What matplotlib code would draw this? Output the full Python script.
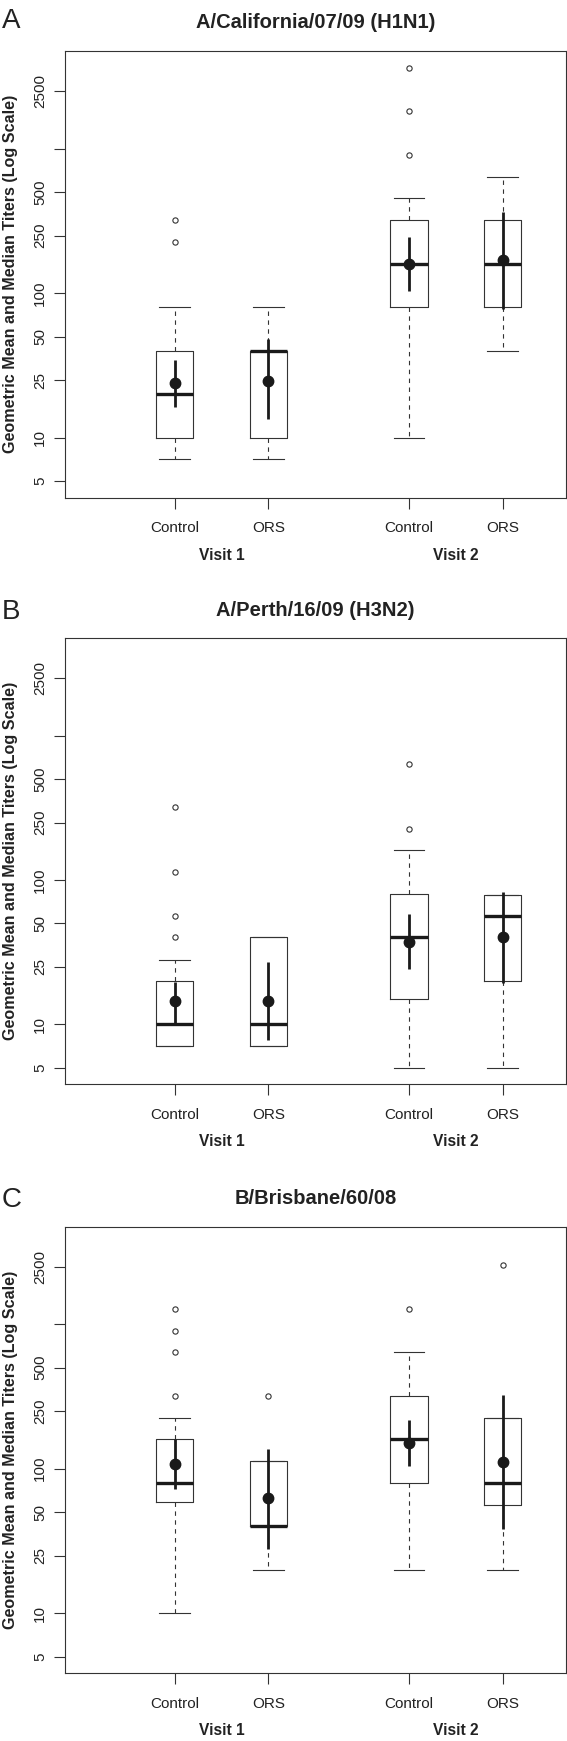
import numpy as np
import matplotlib
matplotlib.use("Agg")
import matplotlib.pyplot as plt

plt.rcParams['font.family'] = ['Liberation Sans', 'DejaVu Sans']

groups = ["Control", "ORS", "Control", "ORS"]
visits = ["Visit 1", "Visit 2"]
positions = [1, 2, 3.5, 4.5]
visit_pos = [1.5, 4.0]
yticks = [5, 10, 25, 50, 100, 250, 500, 1000, 2500]
ytick_labels = ["5", "10", "25", "50", "100", "250", "500", "", "2500"]

titles = ["A/California/07/09 (H1N1)", "A/Perth/16/09 (H3N2)", "B/Brisbane/60/08"]
letters = ["A", "B", "C"]

# panel A
a_q1 = [10, 10, 80, 80]
a_med = [20, 40, 160, 160]
a_q3 = [40, 40, 320, 320]
a_lo = [7.1, 7.1, 10, 40]
a_hi = [80, 80, 452, 640]
a_fliers = [[226, 320], [], [905, 1810, 3620], []]
a_mean = [23.8, 24.8, 160, 170]
a_ci_lo = [16.4, 13.4, 104, 77]
a_ci_hi = [34.4, 48, 244, 364]

# panel B
b_q1 = [7.07, 7.07, 15, 20]
b_med = [10, 10, 40, 56]
b_q3 = [20, 40, 80, 79]
b_lo = [7.07, 7.07, 5, 5]
b_hi = [28, 40, 160, 79]
b_fliers = [[40, 56, 113, 320], [], [226, 640], []]
b_mean = [14.5, 14.5, 37, 40]
b_ci_lo = [10, 7.8, 24, 19.3]
b_ci_hi = [19.5, 27, 58, 82]

# panel C
c_q1 = [59, 40, 80, 56]
c_med = [80, 40, 160, 80]
c_q3 = [160, 113, 320, 226]
c_lo = [10, 20, 20, 20]
c_hi = [226, 113, 640, 226]
c_fliers = [[320, 640, 905, 1280], [320], [1280], [2560]]
c_mean = [107, 63, 150, 112]
c_ci_lo = [72.7, 27.8, 105, 38]
c_ci_hi = [160, 137, 216, 322]

panels = [
    (a_q1, a_med, a_q3, a_lo, a_hi, a_fliers, a_mean, a_ci_lo, a_ci_hi),
    (b_q1, b_med, b_q3, b_lo, b_hi, b_fliers, b_mean, b_ci_lo, b_ci_hi),
    (c_q1, c_med, c_q3, c_lo, c_hi, c_fliers, c_mean, c_ci_lo, c_ci_hi),
]

W, H = 567, 1741
fig = plt.figure(figsize=(W / 100, H / 100), dpi=100)

# frame top / bottom in pixels, letter baselines
frames = [(51, 497.6), (638.1, 1084.3), (1226.7, 1673.2)]
letter_base = [28, 619, 1207]
left, right = 65, 565.5
edge = "#333333"

for i, (q1, med, q3, lo, hi, fl, mean, cil, cih) in enumerate(panels):
    top, bot = frames[i]
    ax = fig.add_axes([left / W, 1 - bot / H, (right - left) / W, (bot - top) / H])
    stats = []
    for k in range(4):
        stats.append(dict(q1=q1[k], med=med[k], q3=q3[k], whislo=lo[k],
                          whishi=hi[k], fliers=fl[k]))
    ax.bxp(stats, positions=positions, widths=0.4, capwidths=0.33,
           showfliers=True,
           boxprops=dict(color=edge, lw=0.8),
           whiskerprops=dict(color=edge, lw=0.8, linestyle=(0, (4, 4))),
           capprops=dict(color=edge, lw=0.8),
           medianprops=dict(color="#1a1a1a", lw=2.4, solid_capstyle="butt"),
           flierprops=dict(marker="o", markersize=3.8, markerfacecolor="none",
                           markeredgecolor=edge, markeredgewidth=0.8))
    ax.vlines(positions, cil, cih, color="#1a1a1a", lw=2.0, zorder=4)
    ax.plot(positions, mean, "o", color="#1a1a1a", markersize=7.5, zorder=5)

    ax.set_yscale("log")
    ax.set_ylim(10 ** 0.585, 10 ** 3.675)
    ax.set_xlim(-0.17, 5.17)
    ax.set_yticks(yticks)
    ax.set_yticklabels(ytick_labels)
    ax.yaxis.set_minor_locator(matplotlib.ticker.NullLocator())
    ax.set_xticks(positions)
    ax.set_xticklabels(groups)
    ax.tick_params(axis="both", length=8, width=0.8, color=edge,
                   labelsize=11, labelcolor="#222222")
    ax.tick_params(axis="x", pad=9)
    ax.tick_params(axis="y", pad=5)
    plt.setp(ax.get_yticklabels(), rotation=90, va="center")
    for s in ax.spines.values():
        s.set_color(edge)
        s.set_linewidth(0.8)

    fh = bot - top
    for vp, vl in zip(visit_pos, visits):
        ax.text(vp, -57.4 / fh, vl, transform=ax.get_xaxis_transform(),
                ha="center", va="center", fontsize=11.2, fontweight="bold",
                color="#222222")
    ax.text(0.5, 1 + 28 / fh, titles[i], transform=ax.transAxes,
            ha="center", va="center", fontsize=14.5, fontweight="bold",
            color="#222222")
    fig.text(11 / W, 1 - (top + bot) / 2 / H,
             "Geometric Mean and Median Titers (Log Scale)",
             rotation=90, ha="center", va="center", fontsize=11.6,
             fontweight="bold", color="#222222")
    fig.text(2 / W, 1 - letter_base[i] / H, letters[i], ha="left",
             va="baseline", fontsize=20, color="#222222")

fig.savefig("out.png", dpi=100)
